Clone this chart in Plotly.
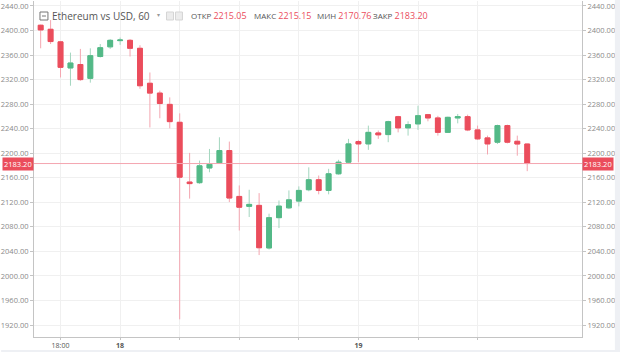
import plotly.graph_objects as go
import pandas as pd

# ---- data (hourly candles, ETH/USD) ----
start_time = "2018-01-17 16:00"
opens = [2408.6, 2402, 2381.5, 2339, 2344.6, 2322, 2357.6, 2373.4, 2383.5, 2384,
         2371, 2314, 2298, 2279.6, 2250.4, 2153, 2152, 2176, 2184.4, 2204.4,
         2129.6, 2113.4, 2115, 2045.6, 2095, 2111, 2122, 2140.5, 2156.8, 2139.4,
         2166.5, 2185.4, 2219, 2215.2, 2233, 2230.4, 2259.6, 2241.3, 2247.8, 2262.9,
         2257.5, 2234, 2257.5, 2259.6, 2238, 2225, 2218, 2245, 2219.5, 2215.05]
highs = [2409.5, 2417, 2383, 2364, 2370, 2371, 2378, 2386, 2388.5, 2386,
         2376, 2331.6, 2302, 2291, 2265, 2200.6, 2188, 2207, 2226, 2219,
         2147.5, 2140.5, 2135, 2101.5, 2123, 2139.4, 2146, 2177, 2163.7, 2174.6,
         2189.3, 2223.4, 2221.7, 2245, 2237, 2253, 2261, 2252, 2277.5, 2264,
         2261, 2259.5, 2264, 2262.9, 2245, 2228.7, 2246.6, 2246.6, 2228.7, 2215.15]
lows = [2371, 2378, 2323.5, 2310, 2318, 2315, 2356, 2370, 2376.6, 2357.6,
        2305, 2242, 2257, 2240.6, 1929.3, 2126, 2150, 2169, 2183, 2120.4,
        2074, 2096, 2034, 2043, 2078, 2109, 2113.4, 2138, 2133, 2133,
        2165, 2184, 2185.4, 2205.5, 2223.4, 2218, 2234, 2228.7, 2238, 2252,
        2228.7, 2233, 2248.7, 2236, 2221.7, 2198, 2215, 2216, 2196, 2170.76]
closes = [2401, 2382, 2340, 2347, 2320, 2359, 2372, 2384, 2384.5, 2371,
          2310, 2298, 2281, 2251.5, 2161, 2150.5, 2179.5, 2182, 2204.4, 2127,
          2112, 2116.6, 2046, 2095, 2113.8, 2124, 2139.4, 2156.8, 2139.4, 2166.5,
          2185.4, 2215.2, 2215.2, 2234, 2230, 2251.5, 2241.3, 2246.6, 2261.2, 2257.5,
          2234, 2258.5, 2259.6, 2238, 2223.4, 2215.2, 2245, 2218, 2215.05, 2183.20]

y_ticks = [1920, 1960, 2000, 2040, 2080, 2120, 2160, 2200, 2240, 2280, 2320, 2360, 2400, 2440]
x_tickvals = ["2018-01-17 18:00", "2018-01-18 00:00", "2018-01-18 06:00", "2018-01-18 12:00",
              "2018-01-18 18:00", "2018-01-19 00:00", "2018-01-19 06:00", "2018-01-19 12:00"]
x_ticktext = ["18:00", "<b>18</b>", "", "", "", "<b>19</b>", "", ""]
header_values = {"ОТКР": "2215.05", "МАКС": "2215.15", "МИН": "2170.76", "ЗАКР": "2183.20"}
last_price = 2183.20

times = pd.date_range(start_time, periods=len(opens), freq="h")
body_hi = [max(o, c) for o, c in zip(opens, closes)]
body_lo = [min(o, c) for o, c in zip(opens, closes)]

UP = "#53b987"
DOWN = "#eb4d5c"
UP_WICK = "#a3d6bf"
DOWN_WICK = "#f4a6b0"
GRID = "#f0f0f0"
AXIS = "#c4c4c4"
TXT = "#8a8a8a"
FONT = "Open Sans"

fig = go.Figure()
# wicks
fig.add_trace(go.Candlestick(
    x=times, open=opens, high=highs, low=lows, close=closes,
    increasing=dict(line=dict(color=UP_WICK, width=1), fillcolor=UP_WICK),
    decreasing=dict(line=dict(color=DOWN_WICK, width=1), fillcolor=DOWN_WICK),
    hoverinfo="skip", showlegend=False))
# bodies
fig.add_trace(go.Candlestick(
    x=times, open=opens, high=body_hi, low=body_lo, close=closes,
    increasing=dict(line=dict(color=UP, width=1), fillcolor=UP),
    decreasing=dict(line=dict(color=DOWN, width=1), fillcolor=DOWN),
    hoverinfo="skip", showlegend=False))
# invisible trace to activate right axis
fig.add_trace(go.Scatter(x=times, y=closes, yaxis="y2", mode="lines",
                         line=dict(width=0), opacity=0, hoverinfo="skip", showlegend=False))

yrange = [1900.5, 2448.1]
yax = dict(range=yrange, tickvals=y_ticks, tickformat=".2f", showgrid=True, gridcolor=GRID,
           gridwidth=1, zeroline=False, showline=True, linecolor=AXIS, linewidth=1,
           ticks="outside", ticklen=3, tickcolor=AXIS,
           tickfont=dict(family=FONT, size=7.5, color=TXT), fixedrange=True)
fig.update_layout(
    width=620, height=352,
    margin=dict(l=32, r=38, t=1, b=15),
    paper_bgcolor="white", plot_bgcolor="white",
    xaxis=dict(range=["2018-01-17 15:19:40", "2018-01-19 22:31"],
               tickvals=x_tickvals, ticktext=x_ticktext,
               showgrid=True, gridcolor=GRID, zeroline=False,
               showline=True, linecolor=AXIS, ticks="outside", ticklen=2, tickcolor=AXIS,
               tickfont=dict(family=FONT, size=7, color="#555"),
               rangeslider=dict(visible=False), tickangle=0),
    yaxis=yax,
    yaxis2=dict(yax, overlaying="y", side="right", showgrid=False),
    font=dict(family=FONT),
    showlegend=False,
)

# last price line
fig.add_shape(type="line", xref="paper", x0=0, x1=1, yref="y", y0=last_price, y1=last_price,
              line=dict(color=DOWN_WICK, width=1))
for xp, anc in [(0, "right"), (1, "left")]:
    fig.add_annotation(xref="paper", x=xp, yref="y", y=last_price, text=f"{last_price:.2f}",
                       showarrow=False, xanchor=anc, yanchor="middle", bgcolor=DOWN,
                       font=dict(family=FONT, size=7.5, color="white"), borderpad=1)

# outer light strips
W = 550.0
H = 336.0
def px(x):
    return (x - 32) / W
def py(y):
    return (337 - y) / H
fig.add_shape(type="rect", xref="paper", yref="paper", x0=px(615), x1=px(621), y0=py(353), y1=py(-1),
              fillcolor="#eef0f4", line=dict(width=0), layer="above")
fig.add_shape(type="rect", xref="paper", yref="paper", x0=px(-1), x1=px(621), y0=py(353), y1=py(350),
              fillcolor="#eef0f4", line=dict(width=0), layer="above")

# header
fig.add_shape(type="rect", xref="paper", yref="paper", x0=px(38), x1=px(46), y0=py(20), y1=py(12),
              line=dict(color="#777", width=1), fillcolor="white")
fig.add_shape(type="line", xref="paper", yref="paper", x0=px(40), x1=px(44), y0=py(16), y1=py(16),
              line=dict(color="#777", width=1))
fig.add_annotation(xref="paper", yref="paper", x=px(48), y=py(16), text="Ethereum vs USD, 60",
                   showarrow=False, xanchor="left", yanchor="middle",
                   font=dict(family=FONT, size=10, color="#555"))
fig.add_annotation(xref="paper", yref="paper", x=px(153), y=py(15), text="▾",
                   showarrow=False, xanchor="left", yanchor="middle",
                   font=dict(family=FONT, size=6, color="#999"))
for x0 in (165, 174):
    fig.add_shape(type="rect", xref="paper", yref="paper", x0=px(x0), x1=px(x0 + 7), y0=py(20), y1=py(12),
                  line=dict(color="#d5d5d5", width=1), fillcolor="#ececec")
label_x = {"ОТКР": 188, "МАКС": 251, "МИН": 314, "ЗАКР": 370}
for lab, val in header_values.items():
    fig.add_annotation(xref="paper", yref="paper", x=px(label_x[lab]), y=py(16),
                       text=f"{lab} <span style='color:{DOWN}; font-size:9px'>{val}</span>",
                       showarrow=False, xanchor="left", yanchor="middle",
                       font=dict(family=FONT, size=8, color="#555"))

fig.write_html("out.html")
